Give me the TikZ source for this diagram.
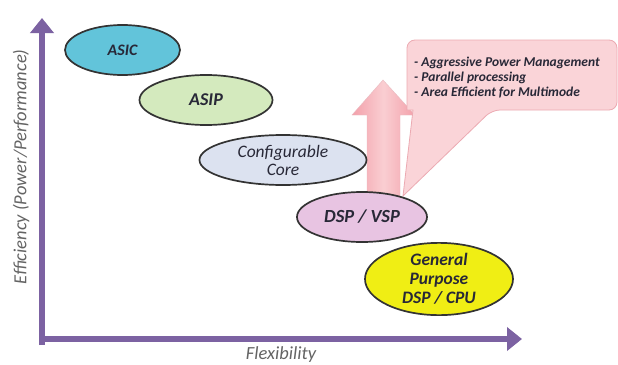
\documentclass[tikz,border=0pt]{standalone}
\usepackage{fontspec}
\setmainfont{Carlito}
\usetikzlibrary{shapes.geometric,arrows.meta}
\definecolor{axispurple}{RGB}{124,98,162}
\definecolor{asiccol}{RGB}{98,196,218}
\definecolor{asipcol}{RGB}{212,234,190}
\definecolor{confcol}{RGB}{220,226,240}
\definecolor{dspcol}{RGB}{232,196,226}
\definecolor{gpcol}{RGB}{240,238,20}
\definecolor{arrowpink}{RGB}{243,160,170}
\definecolor{arrowlight}{RGB}{250,206,210}
\definecolor{calloutfill}{RGB}{250,212,216}
\definecolor{calloutline}{RGB}{236,170,178}
\definecolor{labelcol}{RGB}{40,40,55}
\definecolor{axislabel}{RGB}{100,100,100}
\begin{document}
\begin{tikzpicture}[x=1pt,y=-1pt,
  blob/.style={ellipse, draw=black!80, line width=1.7pt, inner sep=0pt, align=center, text=labelcol},
  bfit/.style={font=\fontsize{#1}{#1}\selectfont\bfseries\itshape},
  axis/.style={line width=6pt, draw=axispurple, -{Triangle[width=23pt,length=15pt]}},
  axlab/.style={font=\fontsize{18.5}{20}\selectfont\itshape, text=axislabel, inner sep=0pt},
  callout/.style={fill=calloutfill, draw=calloutline, line width=0.8pt},
  ctext/.style={font=\fontsize{13.5}{15}\selectfont\bfseries\itshape, text=labelcol, anchor=base west, inner sep=0pt}]
\useasboundingbox[fill=white] (0,0) rectangle (618,364);

% axes
\coordinate (O) at (42,339);
\coordinate (ytip) at (42,18);
\coordinate (xtip) at (522,339);
\draw[axis] ([yshift=-6pt]O) -- (ytip);
\draw[axis] ([xshift=-3pt]O) -- (xtip);
\node[axlab, rotate=90] (ylab) at (21,167) {Efficiency (Power/Performance)};
\node[axlab, anchor=base] (xlab) at (281,359) {Flexibility};

% big pink arrow
\path[left color=arrowpink, right color=arrowpink, middle color=arrowlight, draw=arrowpink!90!black!60, line width=0.4pt]
  (367,205) -- (367,115) -- (352,115) -- (383,80) -- (415,115) -- (400,115) -- (400,205) -- cycle;

% callout
\draw[callout, rounded corners=8pt] (407,75) -- (407,40) -- (617,40) -- (617,110) -- (492,110)
  [sharp corners] -- (403,196) -- (413,110) -- (407,110) -- cycle;
\node[ctext] (c1) at (414,66) {- Aggressive Power Management};
\node[ctext] (c2) at (414,81) {- Parallel processing};
\node[ctext] (c3) at (414,96) {- Area Efficient for Multimode};

% ellipses
\node[blob, fill=asiccol, minimum width=115pt, minimum height=50pt, bfit=16] (asic) at (122.5,50) {ASIC};
\node[blob, fill=asipcol, minimum width=133pt, minimum height=50pt, bfit=18] (asip) at (206,100) {ASIP};
\node[blob, fill=confcol, minimum width=167pt, minimum height=50pt, font=\fontsize{17.5}{18}\selectfont\itshape] (conf) at (283,160) {Configurable\\Core};
\node[blob, fill=dspcol, minimum width=130pt, minimum height=50pt, bfit=18.5] (dsp) at (362,217) {DSP / VSP};
\node[blob, fill=gpcol, minimum width=148pt, minimum height=67pt, font=\fontsize{17.5}{19}\selectfont\bfseries\itshape] (gp) at (439,279) {General\\Purpose\\DSP / CPU};
\end{tikzpicture}
\end{document}
